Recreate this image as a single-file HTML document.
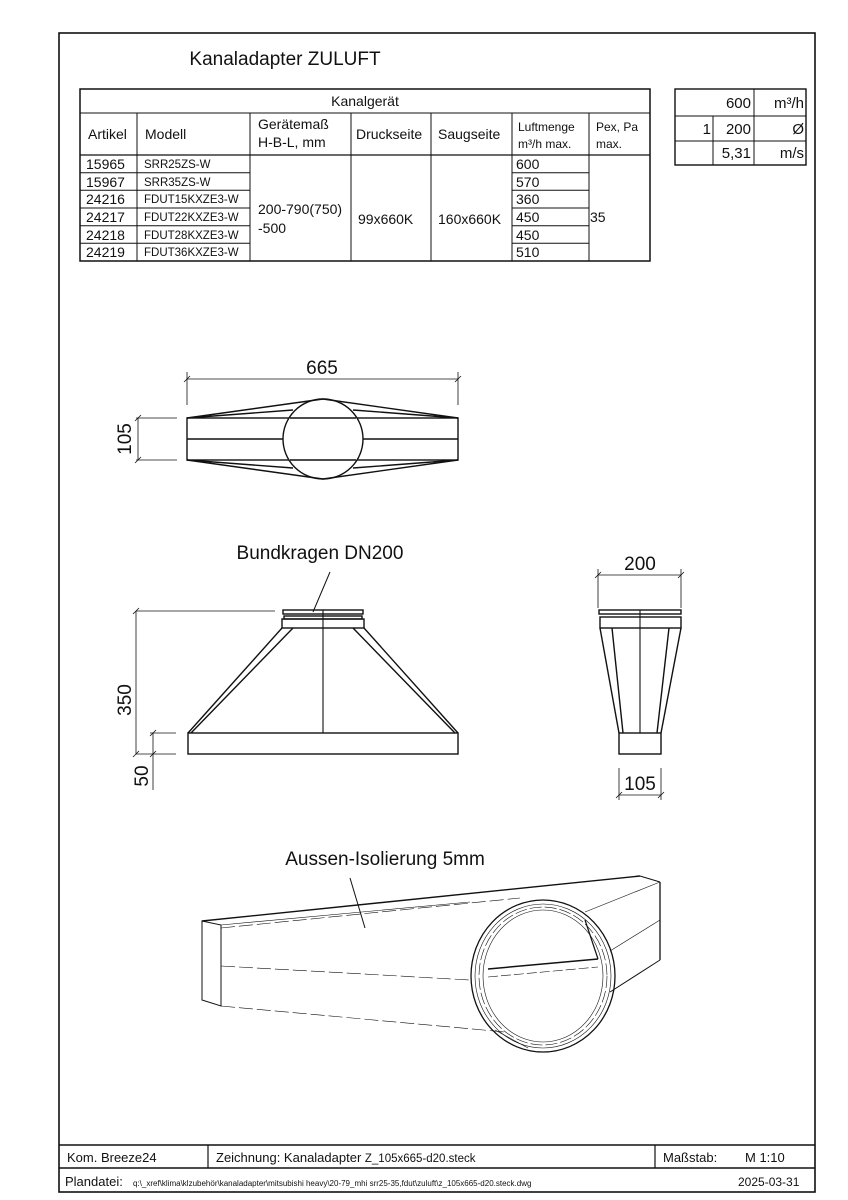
<!DOCTYPE html>
<html><head><meta charset="utf-8"><style>
html,body{margin:0;padding:0;background:#fff;}
svg{display:block;}
text{font-family:"Liberation Sans",sans-serif;fill:#111;}
</style></head><body>
<svg width="848" height="1200" viewBox="0 0 848 1200" xmlns="http://www.w3.org/2000/svg">
<g fill="none" stroke="#111">
<!-- frame -->
<rect x="59" y="33" width="756" height="1159" stroke-width="1.6"/>
<line x1="59" y1="1145" x2="815" y2="1145" stroke-width="1.4"/>
<line x1="59" y1="1168" x2="815" y2="1168" stroke-width="1.4"/>
<line x1="208" y1="1145" x2="208" y2="1168" stroke-width="1.2"/>
<line x1="655" y1="1145" x2="655" y2="1168" stroke-width="1.2"/>
<!-- main table -->
<rect x="80" y="89" width="570" height="172" stroke-width="1.5"/>
<line x1="80" y1="113" x2="650" y2="113"/>
<line x1="80" y1="155" x2="650" y2="155" stroke-width="1.3"/>
<line x1="137" y1="113" x2="137" y2="261"/>
<line x1="250" y1="113" x2="250" y2="261"/>
<line x1="351" y1="113" x2="351" y2="261"/>
<line x1="431" y1="113" x2="431" y2="261"/>
<line x1="512" y1="113" x2="512" y2="261"/>
<line x1="589" y1="113" x2="589" y2="261"/>
<g stroke-width="1">
<line x1="80" y1="172.7" x2="250" y2="172.7"/><line x1="80" y1="190.3" x2="250" y2="190.3"/>
<line x1="80" y1="208" x2="250" y2="208"/><line x1="80" y1="225.7" x2="250" y2="225.7"/>
<line x1="80" y1="243.3" x2="250" y2="243.3"/>
<line x1="512" y1="172.7" x2="589" y2="172.7"/><line x1="512" y1="190.3" x2="589" y2="190.3"/>
<line x1="512" y1="208" x2="589" y2="208"/><line x1="512" y1="215" x2="589" y2="215" stroke-width="0"/>
<line x1="512" y1="225.7" x2="589" y2="225.7"/>
<line x1="512" y1="243.3" x2="589" y2="243.3"/>
</g>
<!-- right table -->
<rect x="675" y="89" width="131" height="76" stroke-width="1.4"/>
<line x1="675" y1="116" x2="806" y2="116"/><line x1="675" y1="141" x2="806" y2="141"/>
<line x1="713" y1="116" x2="713" y2="165"/><line x1="754" y1="89" x2="754" y2="165"/>

<!-- top view -->
<g stroke-width="0.8">
<line x1="187" y1="379" x2="458" y2="379"/>
<line x1="187" y1="372" x2="187" y2="405"/><line x1="458" y1="372" x2="458" y2="405"/>
<line x1="184" y1="382" x2="190" y2="376"/><line x1="455" y1="382" x2="461" y2="376"/>
<line x1="138" y1="418" x2="138" y2="460"/>
<line x1="136" y1="418" x2="177" y2="418"/><line x1="136" y1="460" x2="177" y2="460"/>
<line x1="135" y1="421" x2="141" y2="415"/><line x1="135" y1="463" x2="141" y2="457"/>
</g>
<g stroke-width="1.4">
<rect x="187" y="418" width="271" height="42"/>
<line x1="187" y1="439" x2="283" y2="439"/><line x1="363" y1="439" x2="458" y2="439"/>
<circle cx="323" cy="439" r="40" fill="#fff"/>
<line x1="290" y1="418" x2="356" y2="418"/><line x1="290" y1="460" x2="356" y2="460"/>
<line x1="187" y1="418" x2="323" y2="399"/><line x1="458" y1="418" x2="323" y2="399"/>
<line x1="187" y1="418" x2="293" y2="410"/><line x1="458" y1="418" x2="353" y2="410"/>
<line x1="187" y1="460" x2="323" y2="479"/><line x1="458" y1="460" x2="323" y2="479"/>
<line x1="187" y1="460" x2="293" y2="468"/><line x1="458" y1="460" x2="353" y2="468"/>
</g>

<!-- front view -->
<g stroke-width="0.8">
<line x1="136" y1="611" x2="136" y2="754"/>
<line x1="136" y1="611" x2="275" y2="611"/>
<line x1="133" y1="614" x2="139" y2="608"/><line x1="133" y1="757" x2="139" y2="751"/>
<line x1="153" y1="733" x2="153" y2="790"/>
<line x1="150" y1="733" x2="176" y2="733"/><line x1="136" y1="754" x2="176" y2="754"/>
<line x1="150" y1="736" x2="156" y2="730"/><line x1="150" y1="757" x2="156" y2="751"/>
</g>
<g stroke-width="1.4">
<rect x="283" y="610" width="80" height="4"/>
<rect x="284" y="616" width="78" height="3"/>
<rect x="282" y="619" width="82" height="9"/>
<line x1="282" y1="628" x2="188" y2="733"/><line x1="293" y1="628" x2="191" y2="733"/>
<line x1="364" y1="628" x2="458" y2="733"/><line x1="353" y1="628" x2="455" y2="733"/>
<rect x="188" y="733" width="270" height="21"/>
<line x1="323" y1="610" x2="323" y2="733" stroke-width="1.1"/>
<line x1="330" y1="572" x2="313" y2="612" stroke-width="1"/>
</g>

<!-- side view -->
<g stroke-width="0.8">
<line x1="598" y1="575" x2="681" y2="575"/>
<line x1="598" y1="569" x2="598" y2="608"/><line x1="681" y1="569" x2="681" y2="608"/>
<line x1="595" y1="578" x2="601" y2="572"/><line x1="678" y1="578" x2="684" y2="572"/>
<line x1="619" y1="795" x2="661" y2="795"/>
<line x1="619" y1="768" x2="619" y2="800"/><line x1="661" y1="768" x2="661" y2="800"/>
<line x1="616" y1="798" x2="622" y2="792"/><line x1="658" y1="798" x2="664" y2="792"/>
</g>
<g stroke-width="1.4">
<rect x="599" y="610" width="82" height="4"/>
<rect x="600" y="617" width="81" height="11"/>
<line x1="600" y1="628" x2="619" y2="733"/><line x1="612" y1="628" x2="623" y2="733"/>
<line x1="681" y1="628" x2="661" y2="733"/><line x1="669" y1="628" x2="657" y2="733"/>
<rect x="619" y="733" width="42" height="21"/>
<line x1="640" y1="610" x2="640" y2="733" stroke-width="1.1"/>
</g>

<!-- iso view -->
<g stroke-width="1">
<polygon points="202,921 221,925 221,1006 202,1000"/>
<line x1="202" y1="921" x2="640" y2="876" stroke-width="1.4"/>
<line x1="640" y1="876" x2="660" y2="882"/>
<line x1="660" y1="882" x2="660" y2="960" stroke-width="1.3"/>
<line x1="660" y1="960" x2="610" y2="992"/>
<line x1="221" y1="925" x2="470" y2="902" stroke-width="0.6"/>
<line x1="585" y1="912" x2="660" y2="882" stroke-width="0.6"/>
<line x1="610" y1="951" x2="660" y2="920" stroke-width="0.6"/>
<line x1="221" y1="928" x2="520" y2="898" stroke-width="0.6" stroke-dasharray="14 4"/>
<line x1="221" y1="966" x2="470" y2="980" stroke-width="0.6" stroke-dasharray="14 4"/>
<line x1="221" y1="1006" x2="505" y2="1032" stroke-width="0.6" stroke-dasharray="14 4"/>
<line x1="350" y1="878" x2="365" y2="928"/>
<ellipse cx="543" cy="976" rx="72" ry="76" stroke-width="1.3"/>
<ellipse cx="543" cy="976" rx="68" ry="72" stroke-width="0.6"/>
<ellipse cx="543" cy="976" rx="64" ry="69" stroke-width="0.6" stroke-dasharray="12 3"/>
<ellipse cx="543" cy="976" rx="60" ry="66" stroke-width="0.6"/>
<line x1="488" y1="969" x2="598" y2="959" stroke-width="1.5"/>
<line x1="488" y1="977" x2="598" y2="967" stroke-width="0.6" stroke-dasharray="10 3"/>
<line x1="585" y1="920" x2="598" y2="959" stroke-width="1.2"/>
<line x1="495" y1="1030" x2="528" y2="1048" stroke-width="0.6"/>
</g>
</g>

<!-- texts -->
<text x="285" y="65" font-size="19" text-anchor="middle">Kanaladapter ZULUFT</text>
<text x="365" y="106" font-size="14" text-anchor="middle">Kanalgerät</text>
<text x="88" y="139" font-size="14">Artikel</text>
<text x="145" y="139" font-size="14">Modell</text>
<text x="258" y="129" font-size="14">Gerätemaß</text>
<text x="258" y="147" font-size="14">H-B-L, mm</text>
<text x="356" y="139" font-size="14">Druckseite</text>
<text x="438" y="139" font-size="14">Saugseite</text>
<text x="518" y="131" font-size="12">Luftmenge</text>
<text x="518" y="148" font-size="12">m³/h max.</text>
<text x="596" y="131" font-size="12">Pex, Pa</text>
<text x="596" y="148" font-size="12">max.</text>
<g font-size="14">
<text x="86" y="169">15965</text><text x="86" y="187">15967</text><text x="86" y="204">24216</text>
<text x="86" y="222">24217</text><text x="86" y="240">24218</text><text x="86" y="257">24219</text>
<text x="516" y="169">600</text><text x="516" y="187">570</text><text x="516" y="204">360</text>
<text x="516" y="222">450</text><text x="516" y="240">450</text><text x="516" y="257">510</text>
<text x="258" y="214">200-790(750)</text><text x="258" y="233">-500</text>
<text x="358" y="224">99x660K</text><text x="438" y="224">160x660K</text>
<text x="590" y="222">35</text>
</g>
<g font-size="11.5">
<text x="144" y="168">SRR25ZS-W</text><text x="144" y="186">SRR35ZS-W</text>
<text x="144" y="203">FDUT15KXZE3-W</text><text x="144" y="221">FDUT22KXZE3-W</text>
<text x="144" y="239">FDUT28KXZE3-W</text><text x="144" y="256">FDUT36KXZE3-W</text>
</g>
<g font-size="15">
<text x="751" y="108" text-anchor="end">600</text><text x="804" y="108" text-anchor="end">m³/h</text>
<text x="711" y="134" text-anchor="end">1</text><text x="751" y="134" text-anchor="end">200</text><text x="804" y="134" text-anchor="end">Ø</text>
<text x="751" y="158" text-anchor="end">5,31</text><text x="804" y="158" text-anchor="end">m/s</text>
</g>
<text x="322" y="374" font-size="19" text-anchor="middle">665</text>
<text transform="translate(131,439) rotate(-90)" font-size="19" text-anchor="middle">105</text>
<text x="320" y="559" font-size="19" text-anchor="middle">Bundkragen  DN200</text>
<text transform="translate(131,700) rotate(-90)" font-size="19" text-anchor="middle">350</text>
<text transform="translate(148,776) rotate(-90)" font-size="19" text-anchor="middle">50</text>
<text x="640" y="570" font-size="19" text-anchor="middle">200</text>
<text x="640" y="790" font-size="19" text-anchor="middle">105</text>
<text x="385" y="865" font-size="19" text-anchor="middle">Aussen-Isolierung 5mm</text>
<text x="67" y="1162" font-size="13">Kom.  Breeze24</text>
<text x="216" y="1162" font-size="13">Zeichnung:   Kanaladapter   <tspan font-size="11.5">Z_105x665-d20.steck</tspan></text>
<text x="663" y="1162" font-size="13">Maßstab:</text>
<text x="745" y="1162" font-size="13">M 1:10</text>
<text x="65" y="1186" font-size="13">Plandatei:</text>
<text x="133" y="1186" font-size="8">q:\_xref\klima\klzubehör\kanaladapter\mitsubishi heavy\20-79_mhi srr25-35,fdut\zuluft\z_105x665-d20.steck.dwg</text>
<text x="738" y="1186" font-size="12">2025-03-31</text>
</svg>
</body></html>
